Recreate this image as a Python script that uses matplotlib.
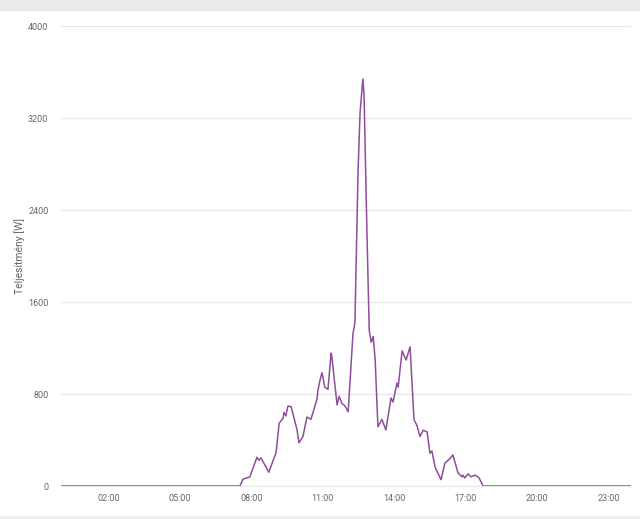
import matplotlib
matplotlib.use("Agg")
import matplotlib.pyplot as plt
import matplotlib.dates as mdates
import pandas as pd

plt.rcParams['font.family'] = ['Roboto', 'DejaVu Sans']

# power readings (time of day, watts)
times = ["00:00", "07:31", "07:39", "07:56", "08:14", "08:19", "08:24", "08:44",
         "08:55", "09:02", "09:10", "09:20", "09:22", "09:27", "09:32", "09:40",
         "09:55", "10:00", "10:10", "10:20", "10:30", "10:45", "10:48", "10:53",
         "10:58", "11:05", "11:13", "11:21", "11:23", "11:36", "11:41", "11:48",
         "11:56", "12:04", "12:16", "12:21", "12:29", "12:34", "12:41", "12:44",
         "12:51", "12:57", "13:02", "13:07", "13:12", "13:19", "13:29", "13:39",
         "13:52", "13:57", "14:07", "14:10", "14:20", "14:30", "14:40", "14:50",
         "14:57", "15:05", "15:13", "15:23", "15:30", "15:35", "15:43", "15:58",
         "16:08", "16:18", "16:28", "16:41", "16:51", "16:53", "16:58", "17:06",
         "17:14", "17:24", "17:34", "17:44", "23:55"]
power = [0, 0, 60, 78, 250, 225, 245, 120,
         225, 285, 545, 590, 640, 610, 695, 690,
         490, 375, 430, 600, 580, 750, 835, 920,
         985, 860, 840, 1155, 1120, 705, 780, 720,
         695, 645, 1320, 1420, 2750, 3250, 3540, 3400,
         2250, 1355, 1250, 1300, 1100, 515, 580, 487,
         765, 730, 895, 860, 1175, 1095, 1210, 575,
         530, 430, 485, 470, 285, 305, 165, 55,
         200, 230, 270, 113, 80, 95, 70, 105,
         80, 95, 70, 0, 0]

yticks = [0, 800, 1600, 2400, 3200, 4000]
xtick_hours = [2, 5, 8, 11, 14, 17, 20, 23]

day = "2020-01-01 "
t = pd.to_datetime([day + s for s in times])

fig = plt.figure(figsize=(6.4, 5.19), dpi=100)
fig.patches.append(plt.Rectangle((0, 1 - 10 / 519), 1, 10 / 519,
                                 transform=fig.transFigure, color="#ebebeb", zorder=0))
fig.patches.append(plt.Rectangle((0, 0), 1, 3 / 519,
                                 transform=fig.transFigure, color="#f0f0f0", zorder=0))

ax = fig.add_axes([61 / 640, 1 - 486 / 519, 570 / 640, 460 / 519])
ax.plot(t, power, color="#8e4e9b", linewidth=1.1)

ax.set_ylim(0, 4000)
ax.set_yticks(yticks)
ax.set_xlim(pd.Timestamp(day + "00:00"), pd.Timestamp(day + "23:57"))
ax.set_xticks([pd.Timestamp(day + "%02d:00" % h) for h in xtick_hours])
ax.xaxis.set_major_formatter(mdates.DateFormatter("%H:%M"))

ax.grid(axis="y", color="#e6e6e6", linewidth=0.8)
ax.set_axisbelow(True)
for s in ["top", "right", "left"]:
    ax.spines[s].set_visible(False)
ax.spines["bottom"].set_color("#e6e6e6")
ax.tick_params(length=0, colors="#666666", labelsize=6.5)
ax.tick_params(axis="y", pad=9)
ax.tick_params(axis="x", pad=6)
ax.set_ylabel("Teljesítmény [W]", color="#666666", fontsize=7.5)
ax.yaxis.set_label_coords(-0.064, 0.5)

fig.savefig("out.png", dpi=100)
